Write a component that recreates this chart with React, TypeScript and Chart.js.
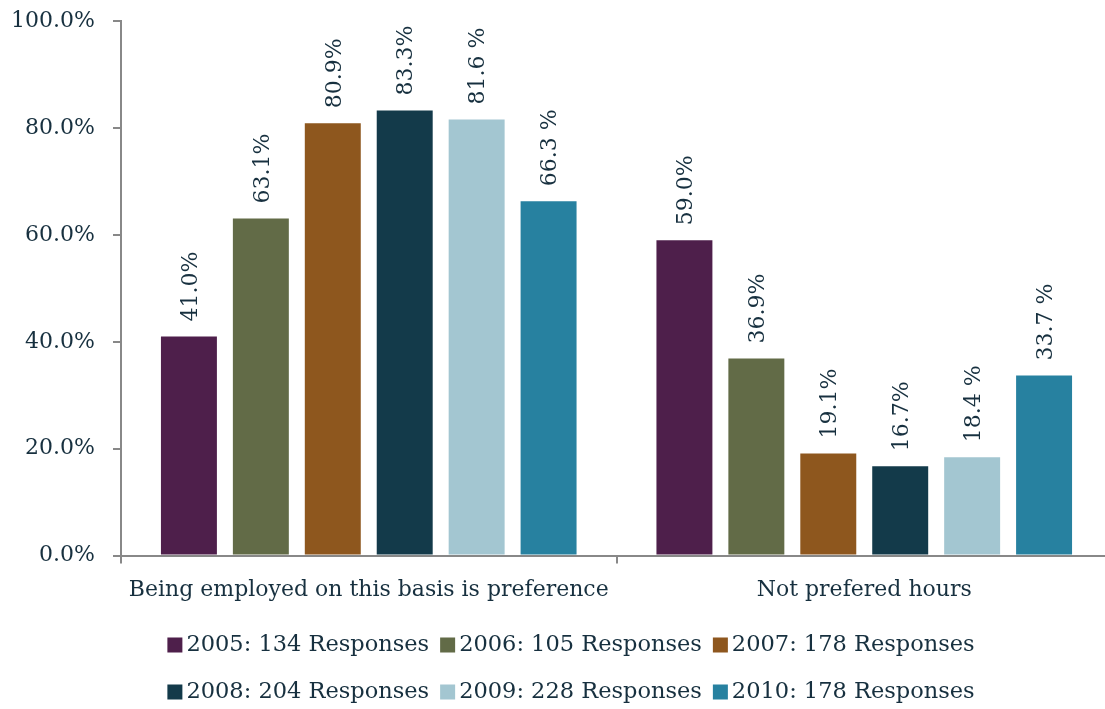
import React, { useEffect, useRef } from "react";
import { Chart, registerables } from "chart.js";

Chart.register(...registerables);

const categories = ["Being employed on this basis is preference", "Not prefered hours"];
const seriesNames = [
  "2005: 134 Responses",
  "2006: 105 Responses",
  "2007: 178 Responses",
  "2008: 204 Responses",
  "2009: 228 Responses",
  "2010: 178 Responses",
];
const seriesColors = ["#4E1F4B", "#626B47", "#8E571E", "#133A4A", "#A3C6D1", "#2781A0"];
const values2005 = [41.0, 59.0];
const values2006 = [63.1, 36.9];
const values2007 = [80.9, 19.1];
const values2008 = [83.3, 16.7];
const values2009 = [81.6, 18.4];
const values2010 = [66.3, 33.7];
const labels2005 = ["41.0%", "59.0%"];
const labels2006 = ["63.1%", "36.9%"];
const labels2007 = ["80.9%", "19.1%"];
const labels2008 = ["83.3%", "16.7%"];
const labels2009 = ["81.6 %", "18.4 %"];
const labels2010 = ["66.3 %", "33.7 %"];
const yMin = 0;
const yMax = 100;
const yStep = 20;

const seriesValues = [values2005, values2006, values2007, values2008, values2009, values2010];
const seriesLabels = [labels2005, labels2006, labels2007, labels2008, labels2009, labels2010];

const TEXT = "#17303F";
const AXIS = "#888888";
const SERIF = "'DejaVu Serif', serif";
const SHIFT = 10;

const valueLabelPlugin = {
  id: "valueLabels",
  afterDatasetsDraw(chart: any) {
    const ctx = chart.ctx;
    ctx.save();
    ctx.font = `22px ${SERIF}`;
    ctx.fillStyle = TEXT;
    ctx.textAlign = "left";
    ctx.textBaseline = "middle";
    chart.data.datasets.forEach((ds: any, di: number) => {
      const meta = chart.getDatasetMeta(di);
      meta.data.forEach((el: any, i: number) => {
        const txt = seriesLabels[di][i];
        ctx.save();
        ctx.translate(el.x + 2, el.y - 15);
        ctx.rotate(-Math.PI / 2);
        ctx.fillText(txt, 0, 0);
        ctx.restore();
      });
    });
    ctx.restore();
  },
};

const legendPlugin = {
  id: "customLegend",
  afterDraw(chart: any) {
    const ctx = chart.ctx;
    ctx.save();
    ctx.font = `22.5px ${SERIF}`;
    ctx.textBaseline = "middle";
    ctx.textAlign = "left";
    const box = 15;
    const gapText = 4;
    const gapItem = 11;
    const rows = [
      [0, 1, 2],
      [3, 4, 5],
    ];
    const rowY = [645 + SHIFT, 692 + SHIFT];
    const centerX = 571;
    rows.forEach((row, ri) => {
      const widths = row.map((i) => box + gapText + ctx.measureText(seriesNames[i]).width);
      const total = widths.reduce((a, b) => a + b, 0) + gapItem * (row.length - 1);
      let x = centerX - total / 2;
      row.forEach((i, k) => {
        const y = rowY[ri];
        ctx.fillStyle = seriesColors[i];
        ctx.fillRect(x, y - box / 2, box, box);
        ctx.fillStyle = TEXT;
        ctx.fillText(seriesNames[i], x + box + gapText, y);
        x += widths[k] + gapItem;
      });
    });
    ctx.restore();
  },
};

export default function App() {
  const ref = useRef<HTMLCanvasElement | null>(null);
  useEffect(() => {
    if (!ref.current) return;
    const chart = new Chart(ref.current, {
      type: "bar",
      data: {
        labels: categories,
        datasets: seriesNames.map((name, i) => ({
          label: name,
          data: seriesValues[i],
          backgroundColor: seriesColors[i],
          borderWidth: 0,
          categoryPercentage: 0.871,
          barPercentage: 0.778,
        })),
      },
      options: {
        responsive: false,
        animation: false,
        devicePixelRatio: 1,
        layout: { padding: { top: 10, right: 8, bottom: 93, left: 0 } },
        plugins: {
          legend: { display: false },
          tooltip: { enabled: false },
          title: { display: false },
        },
        scales: {
          x: {
            grid: {
              display: true,
              drawOnChartArea: false,
              drawTicks: true,
              tickLength: 8,
              color: AXIS,
              lineWidth: 2,
              offset: true,
            },
            border: { display: true, color: AXIS, width: 2 },
            ticks: {
              color: TEXT,
              font: { family: SERIF, size: 22 },
              padding: 13,
              maxRotation: 0,
              autoSkip: false,
            },
          },
          y: {
            min: yMin,
            max: yMax,
            afterFit: (scale: any) => {
              scale.width = 121;
            },
            grid: {
              display: true,
              drawOnChartArea: false,
              drawTicks: true,
              tickLength: 8,
              color: AXIS,
              lineWidth: 2,
            },
            border: { display: true, color: AXIS, width: 2 },
            ticks: {
              stepSize: yStep,
              color: TEXT,
              font: { family: SERIF, size: 22 },
              padding: 18,
              callback: (v: any) => Number(v).toFixed(1) + "%",
            },
          },
        },
      },
      plugins: [valueLabelPlugin, legendPlugin],
    });
    return () => chart.destroy();
  }, []);
  return (
    <div
      style={{
        position: "fixed",
        left: 0,
        top: 0,
        width: 1105,
        height: 709,
        overflow: "hidden",
        background: "#ffffff",
      }}
    >
      <canvas
        ref={ref}
        width={1120}
        height={709 + SHIFT}
        style={{ display: "block", marginTop: -SHIFT }}
      />
    </div>
  );
}
